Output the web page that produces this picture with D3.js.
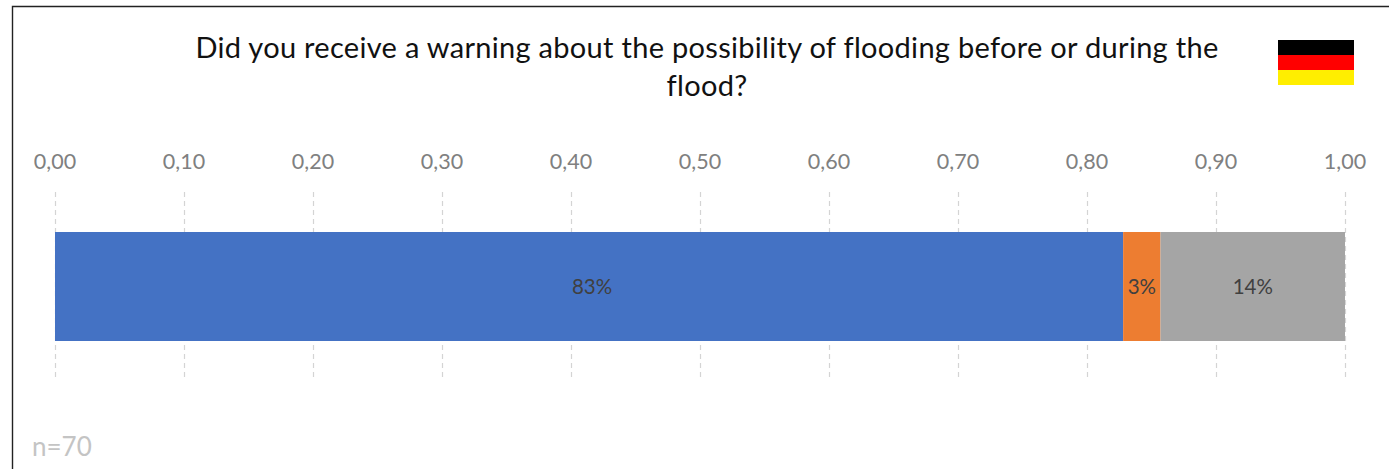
<!DOCTYPE html>
<html><head><meta charset="utf-8">
<script src="https://cdnjs.cloudflare.com/ajax/libs/d3/7.8.5/d3.min.js"></script>
<style>html,body{margin:0;padding:0;background:#fff;overflow:hidden}svg{display:block}text{font-family:Lato,"Open Sans",sans-serif}</style>
</head><body><div id="c"></div>
<script>
const titleLines = ["Did you receive a warning about the possibility of flooding before or during the", "flood?"];
const seriesNames = ["Yes", "Unsure", "No"];
const seriesValues = [0.828, 0.029, 0.143];
const dataLabels = ["83%", "3%", "14%"];
const seriesColors = ["#4472c4", "#ed7d31", "#a5a5a5"];
const tickValues = [0,0.1,0.2,0.3,0.4,0.5,0.6,0.7,0.8,0.9,1];
const flagColors = ["#000000", "#ff0000", "#ffee00"];
const note = "n=70";

const W = 1389, H = 469;
const svg = d3.select("#c").append("svg").attr("width", W).attr("height", H);
const x = d3.scaleLinear().domain([0,1]).range([55,1345]);

// frame (left and top edges only are in view)
svg.append("path").attr("d", `M12.5,${H}V6.5H${W}`).attr("fill","none").attr("stroke","#222").attr("stroke-width",1.4);

// title
svg.append("g").selectAll("text").data(titleLines).join("text")
  .attr("x",707).attr("y",(d,i)=>58+i*38).attr("text-anchor","middle")
  .attr("font-size",29).attr("letter-spacing",0.3).attr("fill","#111").text(d=>d);

// flag
const fy = d3.scaleBand().domain(d3.range(flagColors.length)).range([40,85]);
svg.append("g").selectAll("rect").data(flagColors).join("rect")
  .attr("x",1278).attr("width",76).attr("y",(d,i)=>fy(i)).attr("height",fy.bandwidth()).attr("fill",d=>d);

// axis labels and gridlines
const fmt = v => d3.format(".2f")(v).replace(".",",");
svg.append("g").selectAll("line").data(tickValues).join("line")
  .attr("x1",d=>x(d)+0.5).attr("x2",d=>x(d)+0.5).attr("y1",192).attr("y2",381)
  .attr("stroke","#d4d4d4").attr("stroke-width",1.2).attr("stroke-dasharray","5,4");
svg.append("g").selectAll("text").data(tickValues).join("text")
  .attr("x",d=>x(d)).attr("y",169).attr("text-anchor","middle")
  .attr("font-size",21.5).attr("fill","#808080").text(fmt);

// stacked bar
let cum = 0;
const stacked = seriesValues.map((v,i)=>{const s={x0:cum,x1:cum+v,i};cum+=v;return s;});
svg.append("g").selectAll("rect").data(stacked).join("rect")
  .attr("x",d=>x(d.x0)).attr("width",d=>x(d.x1)-x(d.x0))
  .attr("y",232).attr("height",109).attr("fill",d=>seriesColors[d.i]);
svg.append("g").selectAll("text").data(stacked).join("text")
  .attr("x",d=>(x(d.x0)+x(d.x1))/2).attr("dx",d=>d.i===0?3:0).attr("y",294).attr("text-anchor","middle")
  .attr("font-size",20.5).attr("fill","#404040").text(d=>dataLabels[d.i]);

// note
svg.append("text").attr("x",32).attr("y",456).attr("font-size",26).attr("fill","#c4c4c4").text(note);
</script></body></html>
